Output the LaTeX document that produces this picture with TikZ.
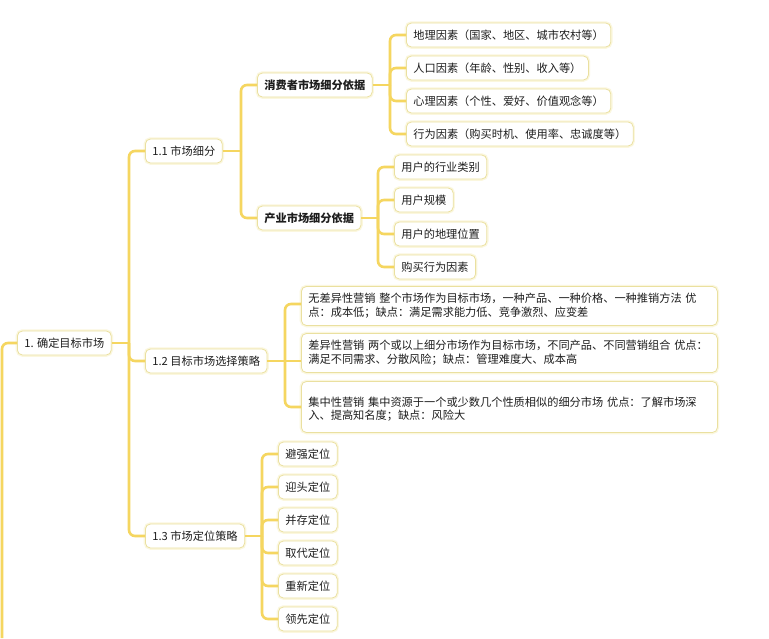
\documentclass[tikz,border=0pt]{standalone}
\usepackage{fontspec}
\setmainfont{Noto Sans CJK SC}
\usetikzlibrary{calc}

\definecolor{branchcol}{RGB}{245,214,96}
\definecolor{boxcol}{RGB}{234,224,160}
\definecolor{glowcol}{RGB}{251,247,222}
\definecolor{txtcol}{RGB}{30,30,30}

\begin{document}
\begin{tikzpicture}[x=1pt,y=-1pt,
    topic/.style={draw=boxcol, line width=0.8pt, fill=white, rounded corners=5pt,
        preaction={draw=glowcol, line width=3.5pt},
        minimum height=24pt, inner xsep=7pt, anchor=west, text=txtcol,
        font=\fontsize{11.2}{13.8}\selectfont},
    headtopic/.style={topic, font=\fontsize{11.2}{13.8}\selectfont\bfseries},
    notebox/.style={topic, text width=402pt, align=left, minimum height=39pt},
    branch/.style={draw=branchcol, line width=2.6pt, rounded corners=6pt}]
    \useasboundingbox (0,0) rectangle (769,638);
    \fill[white] (0,0) rectangle (769,638);

    % Root topic, its stem runs off the bottom
    \node[topic] (root) at (17,343) {1. 确定目标市场};
    \coordinate (stemend) at (2,638);

    % Main topics
    \node[topic] (seg) at (145,151) {1.1 市场细分};
    \node[topic] (sel) at (145,361) {1.2 目标市场选择策略};
    \node[topic] (pos) at (145,536) {1.3 市场定位策略};

    % 1.1 subtopics
    \node[headtopic] (cons) at (257,85) {消费者市场细分依据};
    \node[headtopic] (ind) at (257,218) {产业市场细分依据};

    % consumer factors
    \node[topic] (c1) at (406,35) {地理因素（国家、地区、城市农村等）};
    \node[topic] (c2) at (406,68) {人口因素（年龄、性别、收入等）};
    \node[topic] (c3) at (406,101) {心理因素（个性、爱好、价值观念等）};
    \node[topic] (c4) at (406,134) {行为因素（购买时机、使用率、忠诚度等）};

    % industry factors
    \node[topic] (i1) at (394,167) {用户的行业类别};
    \node[topic] (i2) at (394,200) {用户规模};
    \node[topic] (i3) at (394,234) {用户的地理位置};
    \node[topic] (i4) at (394,267) {购买行为因素};

    % 1.2 strategies
    \node[notebox] (s1) at (301,306) {无差异性营销 整个市场作为目标市场，一种产品、一种价格、一种推销方法 优\\点：成本低；缺点：满足需求能力低、竞争激烈、应变差};
    \node[notebox] (s2) at (301,353) {差异性营销 两个或以上细分市场作为目标市场，不同产品、不同营销组合 优点：\\满足不同需求、分散风险；缺点：管理难度大、成本高};
    \node[notebox, minimum height=51pt] (s3) at (301,407) {\mbox{}\\集中性营销 集中资源于一个或少数几个性质相似的细分市场 优点：了解市场深\\入、提高知名度；缺点：风险大};

    % 1.3 positioning
    \node[topic] (p1) at (278,454) {避强定位};
    \node[topic] (p2) at (278,487) {迎头定位};
    \node[topic] (p3) at (278,520) {并存定位};
    \node[topic] (p4) at (278,553) {取代定位};
    \node[topic] (p5) at (278,586) {重新定位};
    \node[topic] (p6) at (278,619) {领先定位};

    % Fork points, 16pt left of the children
    \path (root.east -| seg.west) ++(-16,0) coordinate (rootfork);
    \path (seg.east -| cons.west) ++(-16,0) coordinate (segfork);
    \path (cons.east -| c1.west) ++(-16,0) coordinate (consfork);
    \path (ind.east -| i1.west) ++(-16,0) coordinate (indfork);
    \path (sel.east -| s1.west) ++(-16,0) coordinate (selfork);
    \path (pos.east -| p1.west) ++(-16,0) coordinate (posfork);

    % Connectors
    \draw[branch] (root.west) -| (stemend);
    \draw[branch] (root.east) -- (rootfork);
    \foreach \c in {seg,sel,pos} \draw[branch] (rootfork) |- (\c.west);
    \draw[branch] (seg.east) -- (segfork);
    \foreach \c in {cons,ind} \draw[branch] (segfork) |- (\c.west);
    \draw[branch] (cons.east) -- (consfork);
    \foreach \c in {c1,c2,c3,c4} \draw[branch] (consfork) |- (\c.west);
    \draw[branch] (ind.east) -- (indfork);
    \foreach \c in {i1,i2,i3,i4} \draw[branch] (indfork) |- (\c.west);
    \draw[branch] (sel.east) -- (selfork);
    \draw[branch] (selfork) |- ([yshift=2pt]s1.west);
    \draw[branch] (selfork) -- (selfork -| s2.west);
    \draw[branch] (selfork) |- (s3.west);
    \draw[branch] (pos.east) -- (posfork);
    \foreach \c in {p1,p2,p3,p4,p5,p6} \draw[branch] (posfork) |- (\c.west);
\end{tikzpicture}
\end{document}
